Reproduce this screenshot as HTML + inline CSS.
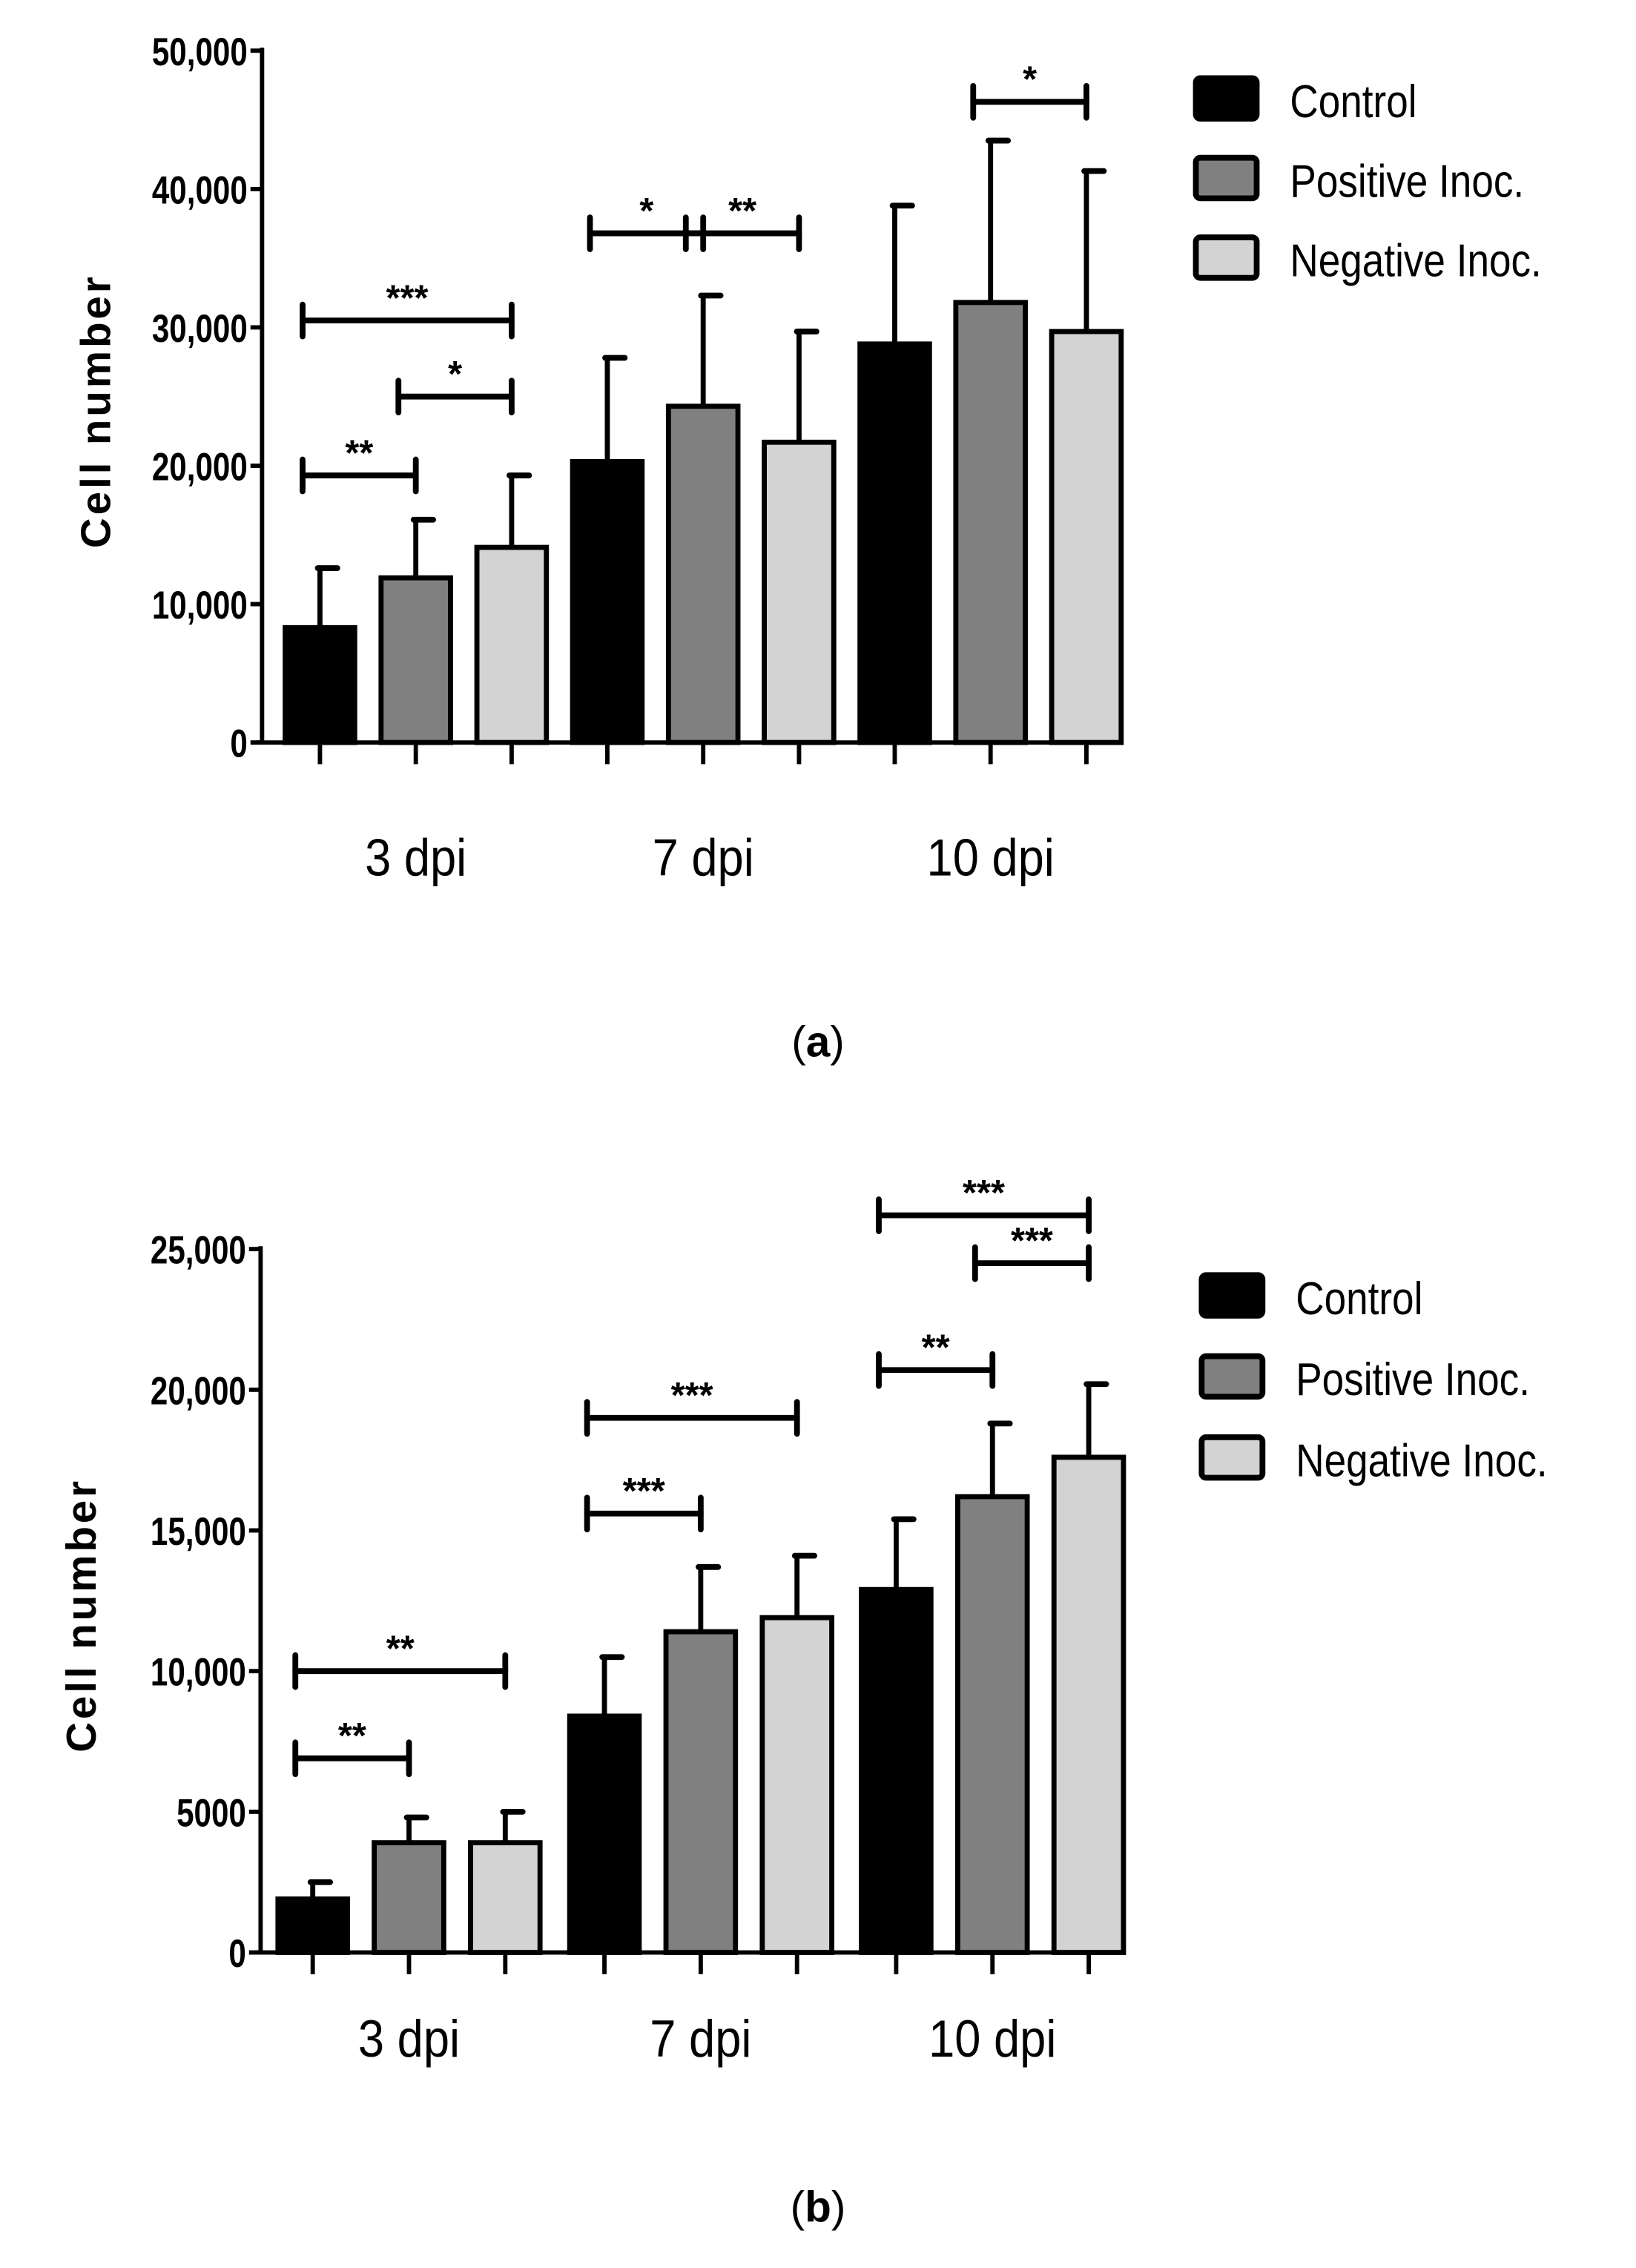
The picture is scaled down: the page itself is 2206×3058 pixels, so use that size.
<!DOCTYPE html>
<html><head><meta charset="utf-8"><style>
html,body{margin:0;padding:0;background:#fff;}
svg{display:block;}
text{font-family:"Liberation Sans",sans-serif;}
</style></head><body>
<svg id="fig" width="2206" height="3058" viewBox="0 0 1130 1567" preserveAspectRatio="none" xmlns="http://www.w3.org/2000/svg"></svg>
<script>
const categories = ["3 dpi", "7 dpi", "10 dpi"];
const seriesNames = ["Control", "Positive Inoc.", "Negative Inoc."];
const aControl = [8300, 20300, 28800];
const aPositive = [11900, 24300, 31800];
const aNegative = [14100, 21700, 29700];
const aControlErr = [12600, 27800, 38800];
const aPositiveErr = [16100, 32300, 43500];
const aNegativeErr = [19300, 29700, 41300];
const aTicks = [0, 10000, 20000, 30000, 40000, 50000];
const aTickLabels = ["0", "10,000", "20,000", "30,000", "40,000", "50,000"];
const bControl = [1900, 8400, 12900];
const bPositive = [3900, 11400, 16200];
const bNegative = [3900, 11900, 17600];
const bControlErr = [2500, 10500, 15400];
const bPositiveErr = [4800, 13700, 18800];
const bNegativeErr = [5000, 14100, 20200];
const bTicks = [0, 5000, 10000, 15000, 20000, 25000];
const bTickLabels = ["0", "5000", "10,000", "15,000", "20,000", "25,000"];
// significance: [group, seriesFrom, seriesTo, value, label]
const aSig = [[0,0,2,30500,"***"],[0,1,2,25000,"*"],[0,0,1,19300,"**"],[1,0,1,36800,"*"],[1,1,2,36800,"**"],[2,1,2,46300,"*"]];
const bSig = [[0,0,2,10000,"**"],[0,0,1,6900,"**"],[1,0,2,19000,"***"],[1,0,1,15600,"***"],[2,0,2,26200,"***"],[2,1,2,24500,"***"],[2,0,1,20700,"**"]];

const NS = "http://www.w3.org/2000/svg";
const svg = document.getElementById("fig");
const fills = ["#000000", "#808080", "#d3d3d3"];
function mk(tag, attrs, parent) {
  const e = document.createElementNS(NS, tag);
  for (const k in attrs) e.setAttribute(k, attrs[k]);
  (parent || svg).appendChild(e);
  return e;
}
function drawChart(cfg) {
  const g = mk("g", {});
  
  
  const yScale = v => cfg.y0 + (cfg.yTop - cfg.y0) * (v / cfg.max);
  const xBar = (gi, si) => cfg.x0 + gi * cfg.groupW + si * cfg.barStep;
  const barW = 48;
  const ya = mk("line", {x1: cfg.axisX, y1: cfg.yTop - 2, x2: cfg.axisX, y2: cfg.y0 + 1.5, stroke: "#000", "stroke-width": 3}, g);
  
  
  const xa = mk("line", {x1: cfg.axisX - 4, y1: cfg.y0, x2: 776, y2: cfg.y0, stroke: "#000", "stroke-width": 3}, g);
  
  
  cfg.ticks.forEach((t, i) => {
    const y = yScale(t);
    mk("line", {x1: cfg.axisX - 8, y1: y, x2: cfg.axisX, y2: y, stroke: "#000", "stroke-width": 3}, g);
    const ax = cfg.axisX - 10;
    const tx = mk("text", {x: ax, y: y + 10, "text-anchor": "end", "font-size": 27, "font-weight": "bold", transform: `translate(${ax},0) scale(0.8,1) translate(${-ax},0)`}, g);
    tx.textContent = cfg.tickLabels[i];
    
    
  });
  const yt = mk("text", {x: 0, y: 0, "text-anchor": "middle", "font-size": 29, "font-weight": "bold", "letter-spacing": 2, transform: `translate(${cfg.titleX},${(cfg.y0 + cfg.yTop) / 2 + 10}) rotate(-90)`}, g);
  yt.textContent = "Cell number";
  
  
  const vals = [cfg.c, cfg.p, cfg.n];
  const errs = [cfg.ce, cfg.pe, cfg.ne];
  categories.forEach((cat, gi) => {
    for (let si = 0; si < 3; si++) {
      const x = xBar(gi, si);
      const cx = x + barW / 2;
      const yv = yScale(vals[si][gi]);
      const ye = yScale(errs[si][gi]);
      const el = mk("line", {x1: cx, y1: yv, x2: cx, y2: ye, stroke: "#000", "stroke-width": 3.5}, g);
      
      
      mk("line", {x1: cx - 1.5, y1: ye, x2: cx + 12, y2: ye, stroke: "#000", "stroke-width": 4, "stroke-linecap": "round"}, g);
      const r = mk("rect", {x: x, y: yv, width: barW, height: cfg.y0 - yv, fill: fills[si], stroke: "#000", "stroke-width": 3.5}, g);
      
      
      mk("line", {x1: cx, y1: cfg.y0, x2: cx, y2: cfg.y0 + 15, stroke: "#000", "stroke-width": 3}, g);
    }
    const lx = xBar(gi, 1) + barW / 2;
    const cl = mk("text", {x: lx, y: cfg.y0 + cfg.catDy, "text-anchor": "middle", "font-size": 36, transform: `translate(${lx},0) scale(0.9,1) translate(${-lx},0)`}, g);
    cl.textContent = cat;
    
    
  });
  cfg.sig.forEach(s => {
    const x1 = xBar(s[0], s[1]) + 12, x2 = xBar(s[0], s[2]) + barW / 2;
    const y = yScale(s[3]);
    const sg = mk("g", {stroke: "#000", "stroke-width": 4, "stroke-linecap": "round"}, g);
    
    
    mk("line", {x1: x1, y1: y, x2: x2, y2: y}, sg);
    mk("line", {x1: x1, y1: y - 11, x2: x1, y2: y + 11}, sg);
    mk("line", {x1: x2, y1: y - 11, x2: x2, y2: y + 11}, sg);
    const st = mk("text", {x: (x1 + x2) / 2, y: y - 7, "text-anchor": "middle", "font-size": 25, "font-weight": "bold"}, g);
    st.textContent = s[4];
    
    
  });
  seriesNames.forEach((nm, i) => {
    const ly = cfg.legY + i * cfg.legStep;
    const lr = mk("rect", {x: cfg.legX + 2, y: ly + 2, width: 42, height: 28, rx: 3, fill: fills[i], stroke: "#000", "stroke-width": 4}, g);
    
    
    const lx = cfg.legX + 67;
    const lt = mk("text", {x: lx, y: ly + 29, "font-size": 32, transform: `translate(${lx},0) scale(0.85,1) translate(${-lx},0)`}, g);
    lt.textContent = nm;
    
    
  });
  const cap = mk("text", {x: 565, y: cfg.capY, "text-anchor": "middle", "font-size": 30, "font-family": "Liberation Serif, serif"}, g);
  cap.innerHTML = '(<tspan font-weight="bold">' + cfg.capLetter + '</tspan>)';
  
  
}
drawChart({name: "chart-a", axisX: 181, y0: 513, yTop: 35, max: 50000, x0: 197, groupW: 198.5, barStep: 66.2,
  c: aControl, p: aPositive, n: aNegative, ce: aControlErr, pe: aPositiveErr, ne: aNegativeErr,
  ticks: aTicks, tickLabels: aTickLabels, sig: aSig, titleX: 76, catDy: 92,
  legX: 824, legY: 52, legStep: 55, capY: 730, capLetter: "a"});
drawChart({name: "chart-b", axisX: 180, y0: 1349, yTop: 863, max: 25000, x0: 192, groupW: 201.5, barStep: 66.5,
  c: bControl, p: bPositive, n: bNegative, ce: bControlErr, pe: bPositiveErr, ne: bNegativeErr,
  ticks: bTicks, tickLabels: bTickLabels, sig: bSig, titleX: 66, catDy: 72,
  legX: 828, legY: 879, legStep: 56, capY: 1535, capLetter: "b"});
</script>
</body></html>
